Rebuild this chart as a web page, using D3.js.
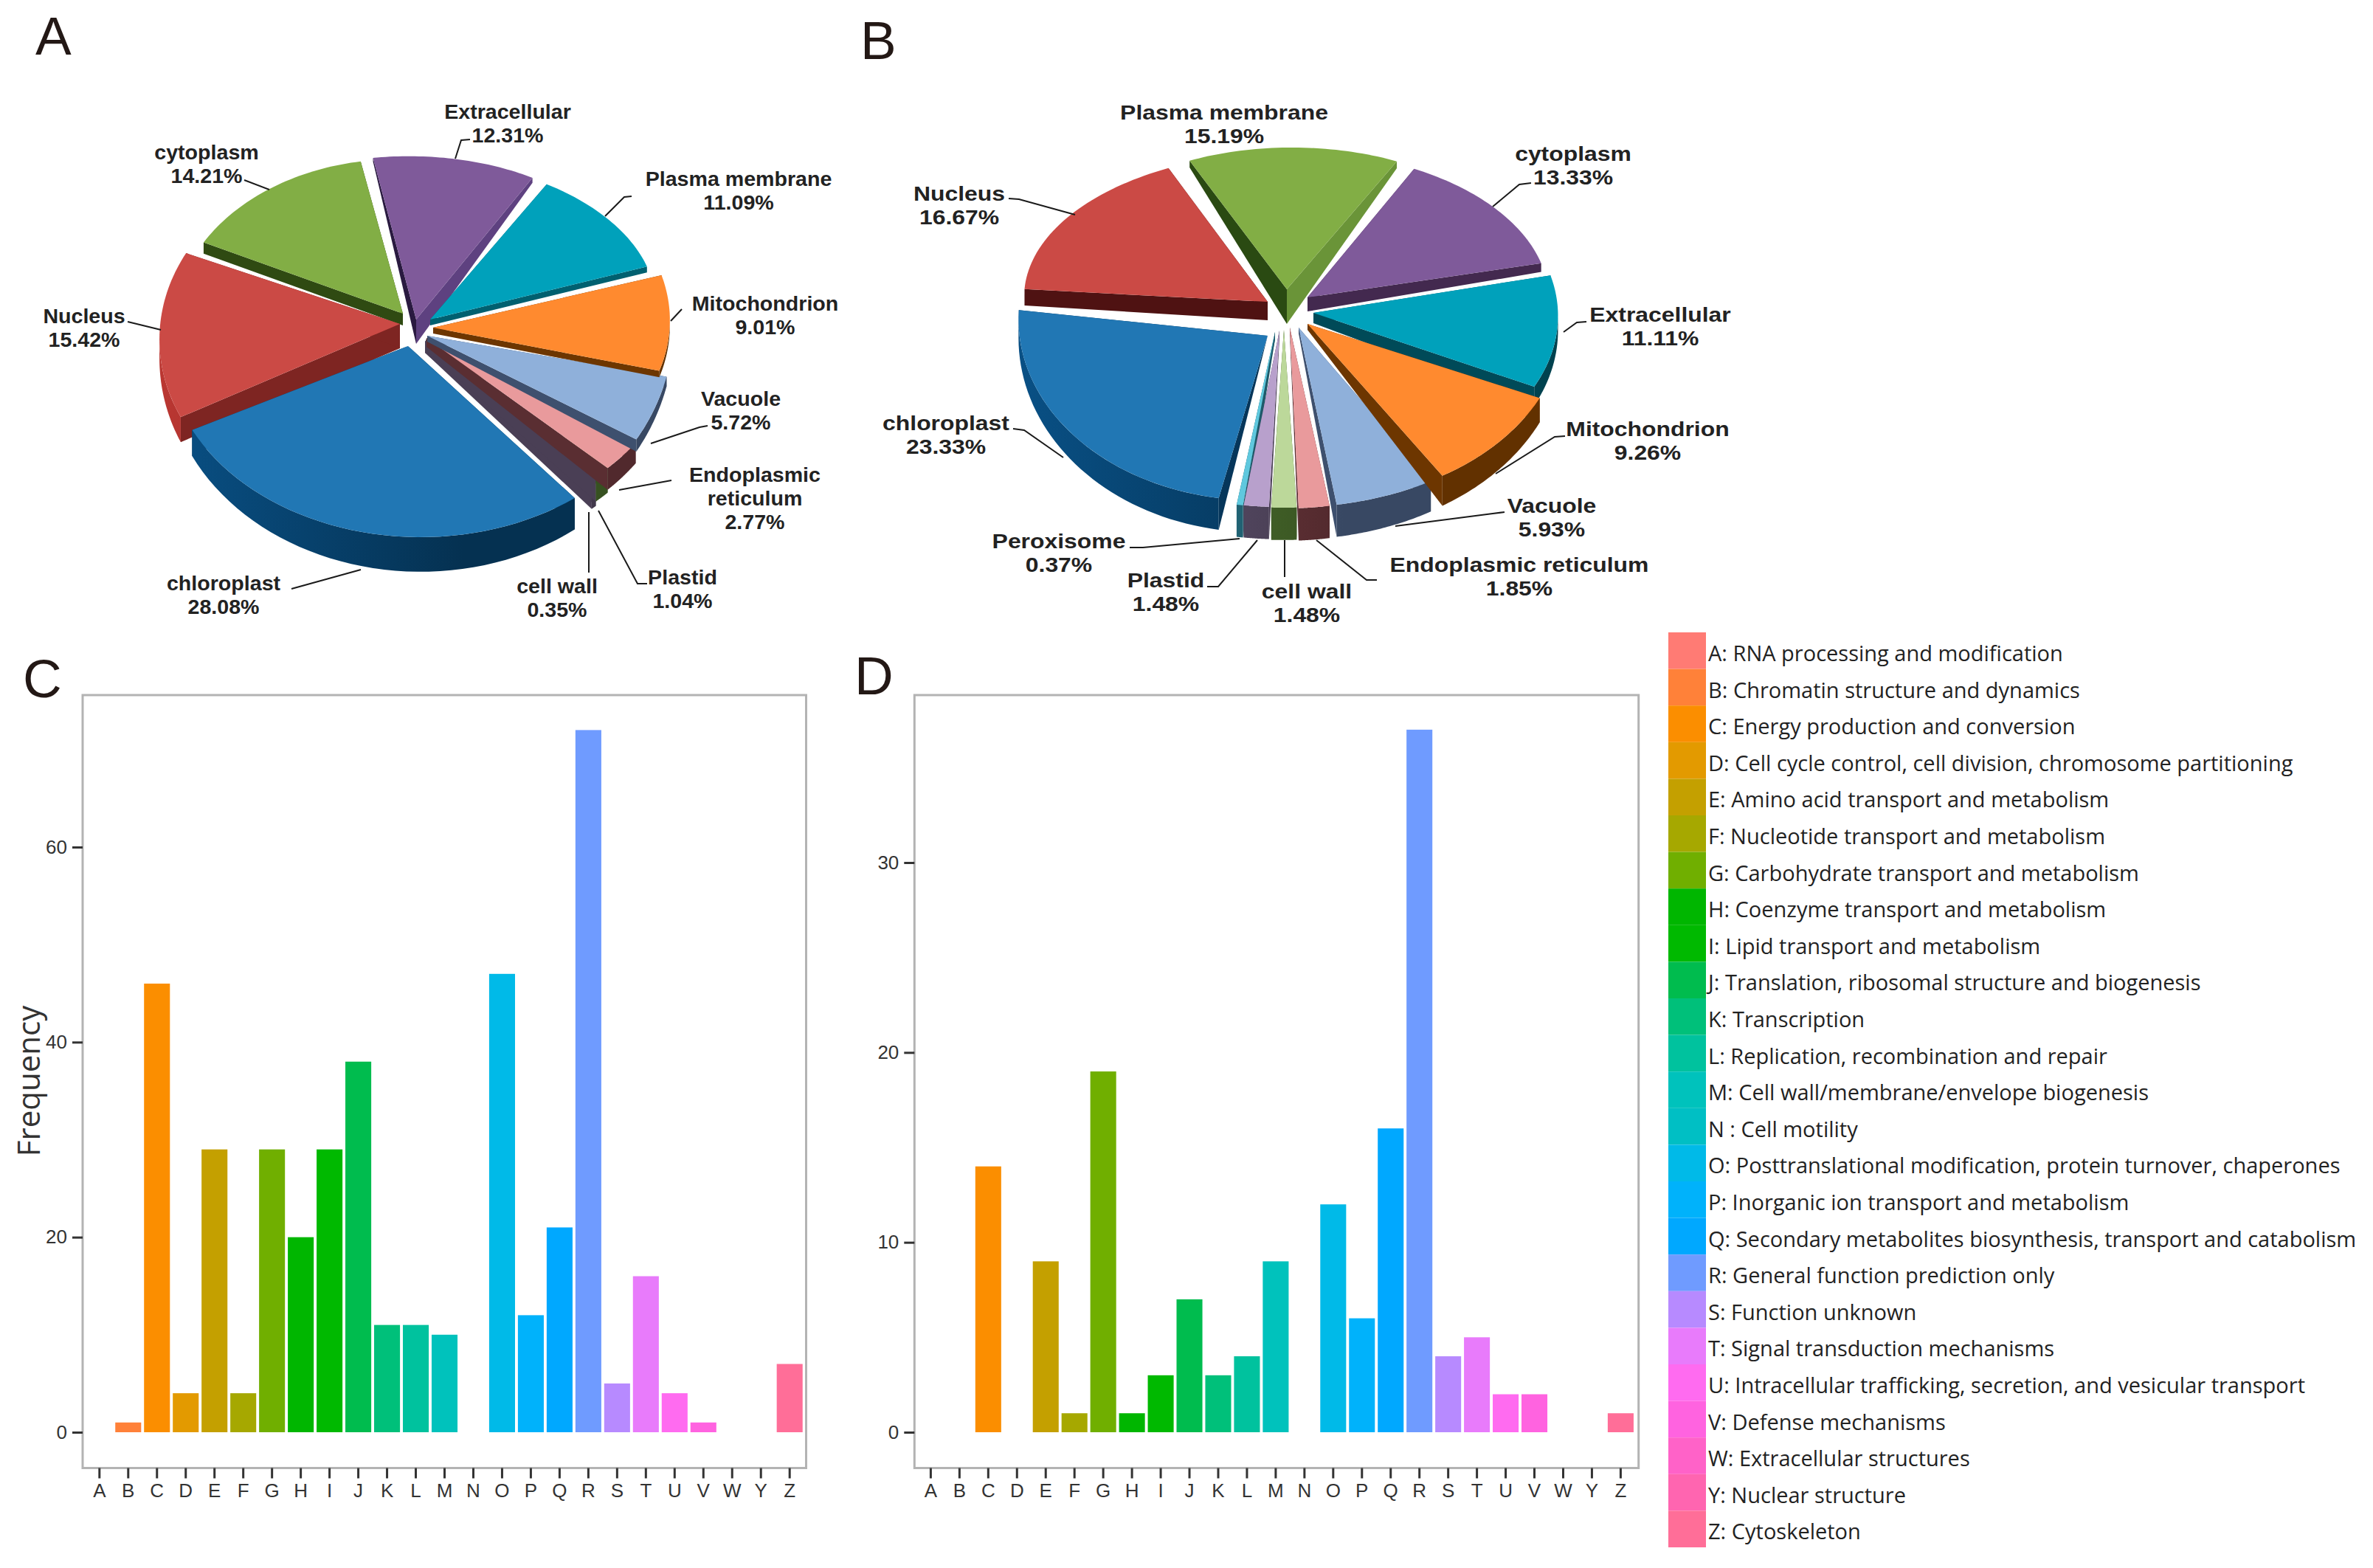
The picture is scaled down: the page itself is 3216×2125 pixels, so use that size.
<!DOCTYPE html>
<html><head><meta charset="utf-8">
<script src="https://cdn.jsdelivr.net/npm/d3@7"></script>
<style>html,body{margin:0;padding:0;background:#fff}svg{display:block}</style>
</head><body><svg id="c" width="3216" height="2125"></svg>
<script>
// ---------- data ----------
const locationsA = ["Extracellular","Plasma membrane","Mitochondrion","Vacuole","Endoplasmic reticulum","Plastid","cell wall","chloroplast","Nucleus","cytoplasm"];
const valuesA = [12.31,11.09,9.01,5.72,2.77,1.04,0.35,28.08,15.42,14.21];
const locationsB = ["Plasma membrane","cytoplasm","Extracellular","Mitochondrion","Vacuole","Endoplasmic reticulum","cell wall","Plastid","Peroxisome","chloroplast","Nucleus"];
const valuesB = [15.19,13.33,11.11,9.26,5.93,1.85,1.48,1.48,0.37,23.33,16.67];
const letters = ["A","B","C","D","E","F","G","H","I","J","K","L","M","N","O","P","Q","R","S","T","U","V","W","Y","Z"];
const freqC = [0,1,46,4,29,4,29,20,29,38,11,11,10,0,47,12,21,72,5,16,4,1,0,0,7];
const freqD = [0,0,14,0,9,1,19,1,3,7,3,4,9,0,12,6,16,37,4,5,2,2,0,0,1];
const ticksC = [0,20,40,60];
const ticksD = [0,10,20,30];
const legendTexts = ["A: RNA processing and modification","B: Chromatin structure and dynamics","C: Energy production and conversion","D: Cell cycle control, cell division, chromosome partitioning","E: Amino acid transport and metabolism","F: Nucleotide transport and metabolism","G: Carbohydrate transport and metabolism","H: Coenzyme transport and metabolism","I: Lipid transport and metabolism","J: Translation, ribosomal structure and biogenesis","K: Transcription","L: Replication, recombination and repair","M: Cell wall/membrane/envelope biogenesis","N : Cell motility","O: Posttranslational modification, protein turnover, chaperones","P: Inorganic ion transport and metabolism","Q: Secondary metabolites biosynthesis, transport and catabolism","R: General function prediction only","S: Function unknown","T: Signal transduction mechanisms","U: Intracellular trafficking, secretion, and vesicular transport","V: Defense mechanisms","W: Extracellular structures","Y: Nuclear structure","Z: Cytoskeleton"];
const hues = ["#FF7B74","#FF8139","#FB8E00","#E39A00","#C4A000","#A6A800","#70AF00","#00B600","#00B900","#00BC4E","#00C07A","#00C29E","#00C2BC","#00BFC4","#00BAE8","#00B2FB","#00A8FF","#6F9BFF","#B78AFF","#E87BFB","#FF6BF0","#FF63E0","#FF62C8","#FF65B0","#FF6E98"];

// ---------- styling tables (slice order of each pie) ----------
const topA = ["#7f5a9a","#00a1bb","#ff8a2f","#8fb0da","#e99a9c","#bcd89a","#b8a0cc","#2177b4","#cb4a45","#82ae45"];
const wallA = ["#5a3d73","#006070","#6d3600","#3e506e","#5a2e32","#3d5a25","#4a3f55","#06365a","#7e2522","#2f4a12"];
const topB = ["#82ae45","#7f5a9a","#00a1bb","#ff8a2f","#8fb0da","#e99a9c","#bcd89a","#b8a0cc","#5fc8de","#2177b4","#cb4a45"];
const wallB = ["#2a4a12","#43294f","#004a58","#6d3600","#3e506e","#5a2e32","#3d5a25","#4a3f55","#1e5a6a","#06365a","#4f1212"];

const svg = d3.select("#c");
const rad = d => d * Math.PI / 180;
const line = d3.line().curve(d3.curveLinearClosed);

function drawPie(cfg) {
  const g = svg.append("g");
  const arcs = d3.pie().sort(null).startAngle(rad(cfg.start)).endAngle(rad(cfg.start + 360))(cfg.values);
  const depth = d3.scaleLinear().domain(cfg.depthDomain).range(cfg.depthRange);
  cfg.order.forEach(i => {
    const a = arcs[i], f = cfg.fit[i];
    const ky = f.ky === undefined ? f.k : f.ky;
    const ox = cfg.cx + f.dx, oy = cfg.cy + f.dy;
    const tip = [cfg.cx + f.tx, cfg.cy + f.ty];
    const tipB = [tip[0], tip[1] + f.td];
    const P = t => [ox + f.k * cfg.rx * Math.sin(t), oy - ky * cfg.ry * Math.cos(t)];
    const D = p => [p[0], p[1] + depth(p[1]) * f.w];
    const wall = cfg.walls[i];
    const sample = (t0, t1) => d3.range(0, 41).map(j => P(t0 + (t1 - t0) * j / 40));
    const s = P(a.startAngle), e = P(a.endAngle);
    g.append("path").attr("d", line([tip, tipB, D(s), s])).attr("fill", f.ws || wall);
    g.append("path").attr("d", line([tip, tipB, D(e), e])).attr("fill", f.we || wall);
    const r0 = Math.max(a.startAngle, Math.PI / 2), r1 = Math.min(a.endAngle, 3 * Math.PI / 2);
    if (r1 > r0) {
      const pts = sample(r0, r1);
      const id = "rim" + cfg.key + i;
      const gr = svg.append("defs").append("linearGradient").attr("id", id).attr("gradientUnits", "userSpaceOnUse")
        .attr("x1", cfg.cx - cfg.rx).attr("x2", cfg.cx + cfg.rx).attr("y1", 0).attr("y2", 0);
      gr.append("stop").attr("offset", 0).attr("stop-color", d3.color(wall).brighter(1.1));
      gr.append("stop").attr("offset", 0.3).attr("stop-color", d3.color(wall).brighter(0.5));
      gr.append("stop").attr("offset", 0.6).attr("stop-color", d3.color(wall).darker(0.3));
      gr.append("stop").attr("offset", 1).attr("stop-color", d3.color(wall).darker(0.3));
      g.append("path").attr("d", line(pts.concat(pts.slice().reverse().map(D)))).attr("fill", `url(#${id})`);
    }
    g.append("path").attr("d", line([tip].concat(sample(a.startAngle, a.endAngle)))).attr("fill", cfg.tops[i]);
  });
  const leaderLine = d3.line();
  g.selectAll("path.leader").data(cfg.leaders).join("path").attr("class", "leader")
    .attr("d", leaderLine).attr("fill", "none").attr("stroke", "#1a1a1a").attr("stroke-width", 2);
  cfg.names.forEach((name, i) => {
    const l = cfg.labels[i];
    const lines = l.lines.concat([cfg.values[i].toFixed(2) + "%"]);
    lines.forEach((t, j) => {
      g.append("text").attr("transform", `translate(${l.x},${l.y + j * cfg.lineGap + 10}) scale(${cfg.textScale},1)`)
        .attr("text-anchor", "middle")
        .attr("font-family", "Liberation Sans, Arial, sans-serif").attr("font-weight", 700).attr("font-size", 27.5)
        .attr("fill", "#222").text(t);
    });
  });
}

drawPie({
  key: "A", names: locationsA, values: valuesA, tops: topA, walls: wallA, start: -9.5, cx: 560, cy: 455, rx: 345, ry: 260,
  depthDomain: [211, 730], depthRange: [6, 47], lineGap: 32, textScale: 1.04,
  order: [0, 9, 1, 8, 7, 6, 5, 4, 3, 2],
  fit: [
    {dx:-6,dy:-79.5,k:.851,ky:.63,tx:4,ty:-22,td:33,w:.8,ws:"#2a1a40",we:"#5e4180"},
    {dx:-16,dy:-41,k:1,ky:.77,tx:23,ty:-22,td:8,w:.45},
    {dx:27,dy:-21,k:.93,ky:.892,tx:27,ty:-11,td:8,w:.3},
    {dx:106,dy:-23.5,k:.72,ky:1.03,tx:19,ty:0,td:8,w:.45},
    {dx:47,dy:-17,k:.933,ky:1.02,tx:18,ty:3,td:12,w:.75},
    {dx:47,dy:-17,k:.933,ky:1.02,tx:17,ty:5,td:14,w:.85,we:"#4a3f55"},
    {dx:47,dy:-17,k:.933,ky:1.02,tx:16,ty:7,td:16,w:1},
    {dx:10,dy:13,k:1,tx:-7,ty:14,td:0,w:1},
    {dx:-62.4,dy:5,k:.816,ky:.918,tx:-18,ty:-16,td:33,w:1},
    {dx:-21.5,dy:-18,k:.873,ky:.851,tx:-14,ty:-30,td:16,w:1}
  ],
  labels: [
    {x:688,y:151,lines:["Extracellular"]},{x:1001,y:242,lines:["Plasma membrane"]},{x:1037,y:411,lines:["Mitochondrion"]},
    {x:1004,y:540,lines:["Vacuole"]},{x:1023,y:643,lines:["Endoplasmic","reticulum"]},{x:925,y:782,lines:["Plastid"]},
    {x:755,y:794,lines:["cell wall"]},{x:303,y:790,lines:["chloroplast"]},{x:114,y:428,lines:["Nucleus"]},{x:280,y:206,lines:["cytoplasm"]}
  ],
  leaders: [
    [[637,189],[625,190],[617,215]],[[331,244],[365,257]],[[856,266],[846,267],[820,293]],[[924,419],[909,435]],
    [[959,577],[948,579],[882,601]],[[910,651],[839,664]],[[877,791],[864,791],[811,692]],[[798,694],[798,776]],
    [[395,798],[489,772]],[[173,436],[218,447]]
  ]
});

drawPie({
  key: "B", names: locationsB, values: valuesB, tops: topB, walls: wallB, start: -27, cx: 1748, cy: 440, rx: 371, ry: 245,
  depthDomain: [200, 690], depthRange: [8, 44], lineGap: 32, textScale: 1.16,
  order: [0, 10, 1, 2, 9, 8, 7, 6, 5, 4, 3],
  fit: [
    {dx:3,dy:-76.4,k:.824,ky:.668,tx:-4,ty:-48,td:47,w:1,ws:"#2a4a12",we:"#6a9438"},
    {dx:10,dy:-33.5,k:.92,ky:.819,tx:24,ty:-37,td:19,w:.6},
    {dx:37,dy:-12,k:.88,ky:.905,tx:32,ty:-16,td:14,w:.8,ws:"#006070"},
    {dx:31,dy:-8,k:.92,ky:1.013,tx:24,ty:-1,td:8,w:1},
    {dx:2,dy:0,k:.99,ky:1.01,tx:12,ty:4,td:8,w:1},
    {dx:-7,dy:4,k:.98,ky:1,tx:0,ty:4,td:10,w:1},
    {dx:-10,dy:3,k:1,tx:-8,ty:7,td:10,w:1},
    {dx:-13,dy:2,k:1,tx:-14,ty:8,td:10,w:1},
    {dx:-14,dy:2,k:1,tx:-20,ty:10,td:10,w:1},
    {dx:-46,dy:-7,k:.867,ky:1,tx:-30,ty:15,td:0,w:1},
    {dx:-2,dy:-38,k:.965,ky:.798,tx:-30,ty:-31,td:25,w:1}
  ],
  labels: [
    {x:1659,y:152,lines:["Plasma membrane"]},{x:2132,y:208,lines:["cytoplasm"]},{x:2250,y:426,lines:["Extracellular"]},
    {x:2233,y:581,lines:["Mitochondrion"]},{x:2103,y:685,lines:["Vacuole"]},{x:2059,y:765,lines:["Endoplasmic reticulum"]},
    {x:1771,y:801,lines:["cell wall"]},{x:1580,y:786,lines:["Plastid"]},{x:1435,y:733,lines:["Peroxisome"]},
    {x:1282,y:573,lines:["chloroplast"]},{x:1300,y:262,lines:["Nucleus"]}
  ],
  leaders: [
    [[2075,248],[2059,250],[2023,280]],[[2150,436],[2137,437],[2119,450]],[[2121,591],[2107,592],[2027,642]],
    [[2039,694],[2023,696],[1891,713]],[[1866,786],[1852,786],[1784,732]],[[1741,732],[1741,782]],
    [[1636,795],[1651,795],[1704,732]],[[1531,742],[1549,742],[1680,730]],[[1373,581],[1388,583],[1441,620]],
    [[1367,269],[1381,270],[1457,291]]
  ]
});

// ---------- bar panels ----------
function drawBars(cfg) {
  const g = svg.append("g");
  const step = (cfg.xZ - cfg.xA) / (letters.length - 1);
  const x = d3.scaleBand().domain(letters).range([cfg.xA - step / 2, cfg.xZ + step / 2]).paddingInner(0.1).paddingOuter(0.05);
  const y = d3.scaleLinear().domain([0, cfg.ref]).range([cfg.y0, cfg.yRef]);
  g.append("rect").attr("x", cfg.left).attr("y", cfg.top).attr("width", cfg.right - cfg.left).attr("height", cfg.bottom - cfg.top)
    .attr("fill", "#fff").attr("stroke", "#b3b3b3").attr("stroke-width", 3);
  g.selectAll("rect.bar").data(cfg.values.map((v, i) => ({v, l: letters[i], c: hues[i]})).filter(d => d.v > 0)).join("rect")
    .attr("class", "bar").attr("x", d => x(d.l)).attr("width", x.bandwidth())
    .attr("y", d => y(d.v)).attr("height", d => y(0) - y(d.v)).attr("fill", d => d.c);
  const ax = g.append("g").attr("transform", `translate(0,${cfg.bottom})`)
    .call(d3.axisBottom(x).tickSize(14).tickPadding(7));
  const ay = g.append("g").attr("transform", `translate(${cfg.left},0)`)
    .call(d3.axisLeft(y).tickValues(cfg.ticks).tickSize(14).tickPadding(7));
  [ax, ay].forEach(a => {
    a.select(".domain").remove();
    a.selectAll("line").attr("stroke", "#333").attr("stroke-width", 3);
    a.selectAll("text").attr("font-family", "Liberation Sans, Arial, sans-serif").attr("font-size", 26).attr("fill", "#333");
  });
}
drawBars({values: freqC, ticks: ticksC, left: 112, right: 1092.5, top: 942, bottom: 1989.5, xA: 134.8, xZ: 1070.2, y0: 1941, yRef: 1148, ref: 60});
drawBars({values: freqD, ticks: ticksD, left: 1239.3, right: 2220.7, top: 942, bottom: 1989.5, xA: 1261.4, xZ: 2196.4, y0: 1941, yRef: 1169, ref: 30});

svg.append("text").attr("transform", "translate(54,1465) rotate(-90)").attr("text-anchor", "middle")
  .attr("font-family", "Open Sans, sans-serif").attr("font-size", 42).attr("fill", "#333").text("Frequency");

// panel letters
[["A",48,74],["B",1166,80],["C",31,945],["D",1158,941]].forEach(p => {
  svg.append("text").attr("x", p[1]).attr("y", p[2]).attr("font-family", "Liberation Sans, Arial, sans-serif")
    .attr("font-size", 73).attr("fill", "#231815").text(p[0]);
});

// ---------- legend ----------
const rowH = (2097 - 857) / legendTexts.length;
const yL = d3.scaleBand().domain(letters).range([857, 2097]);
const leg = svg.append("g");
leg.selectAll("rect").data(letters).join("rect").attr("x", 2261).attr("width", 51)
  .attr("y", d => yL(d)).attr("height", yL.bandwidth()).attr("fill", (d, i) => hues[i]);
leg.selectAll("text").data(legendTexts).join("text").attr("x", 2315).attr("y", (d, i) => 857 + rowH * i + 39)
  .attr("font-family", "Open Sans, sans-serif").attr("font-size", 29).attr("fill", "#222").text(d => d);
</script></body></html>
